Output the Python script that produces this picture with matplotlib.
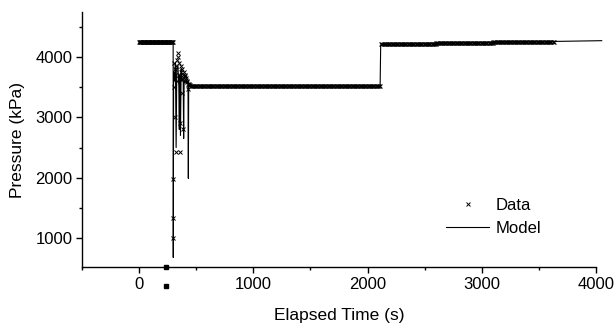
import numpy as np
import matplotlib
matplotlib.use("Agg")
import matplotlib.pyplot as plt

plt.rcParams["font.family"] = ["Liberation Sans", "DejaVu Sans"]

# logged data: plateaus (start s, end s, kPa) sampled every `step` seconds
plateau_start = [0, 450, 2120, 2600, 3100]
plateau_end = [295, 2110, 2600, 3100, 3630]
plateau_level = [4240, 3520, 4215, 4230, 4245]
plateau_step = [5, 10, 10, 10, 10]

# logged data during the depressurisation transient
transient_t = [296, 297, 298, 302, 306, 310, 314, 318, 322, 326, 330, 334, 338,
               342, 346, 350, 354, 358, 362, 366, 370, 374, 378, 382, 386, 390,
               394, 398, 402, 406, 410, 414, 418, 422, 426, 430, 434, 438, 442]
transient_p = [1980, 1330, 1000, 3900, 3500, 3800, 3000, 3700, 2420, 3850, 3950,
               3600, 4000, 4060, 3700, 3900, 2900, 3650, 2420, 3850, 3750, 3400,
               3800, 3700, 2800, 3650, 3750, 3700, 3600, 3680, 3650, 3620, 3600,
               3580, 3560, 3470, 3550, 3540, 3530]

# stray low readings
stray_t = [237, 237]
stray_p = [530, 205]

# model curve
model_t = [0, 298, 299, 302, 310, 318, 324, 330, 340, 348, 352, 356, 362, 368,
           376, 386, 390, 394, 410, 428, 431, 434, 460, 2110, 2115, 2200, 4050]
model_p = [4240, 4240, 680, 3750, 3600, 3900, 2500, 3800, 3850, 3500, 2800,
           3700, 2700, 3800, 3600, 3650, 2650, 3600, 3580, 3560, 1990, 3530,
           3520, 3520, 4200, 4215, 4270]

data_t, data_p = [], []
for t0, t1, lvl, st in zip(plateau_start, plateau_end, plateau_level, plateau_step):
    ts = np.arange(t0, t1 + 1, st)
    data_t.extend(ts)
    data_p.extend([lvl] * len(ts))
data_t.extend(transient_t)
data_p.extend(transient_p)

fig = plt.figure(figsize=(6.16, 3.29), dpi=100)
ax = fig.add_axes([82 / 616, 62 / 329, 514 / 616, 255 / 329])

ax.plot(data_t, data_p, linestyle="none", marker="x", markersize=3.2,
        markeredgewidth=0.7, color="black", label="Data")
ax.plot(stray_t, stray_p, linestyle="none", marker="s", markersize=2.2,
        color="black", clip_on=False)
ax.plot(model_t, model_p, color="black", linewidth=0.8, label="Model",
        clip_on=False)

ax.set_xlim(-500, 4000)
ax.set_ylim(522, 4745)
ax.set_xticks([0, 1000, 2000, 3000, 4000])
ax.set_xticks([-500, 500, 1500, 2500, 3500], minor=True)
ax.set_yticks([1000, 2000, 3000, 4000])
ax.set_yticks([1500, 2500, 3500, 4500], minor=True)

for side in ("top", "right"):
    ax.spines[side].set_visible(False)
for side in ("left", "bottom"):
    ax.spines[side].set_linewidth(1.0)
ax.tick_params(which="major", direction="out", length=4, width=1.0,
               labelsize=12, pad=3)
ax.tick_params(which="minor", direction="out", length=2.5, width=1.0)

ax.set_xlabel("Elapsed Time (s)", fontsize=12.5, labelpad=12)
ax.set_ylabel("Pressure (kPa)", fontsize=12.5, labelpad=7)

ax.legend(loc="upper left", bbox_to_anchor=(446 / 616, 1 - 198 / 329),
          bbox_transform=fig.transFigure, frameon=False, fontsize=12,
          handlelength=2.6, handletextpad=0.4, borderpad=0, borderaxespad=0,
          labelspacing=0.48, markerscale=0.9)

fig.savefig("out.png", dpi=100)
